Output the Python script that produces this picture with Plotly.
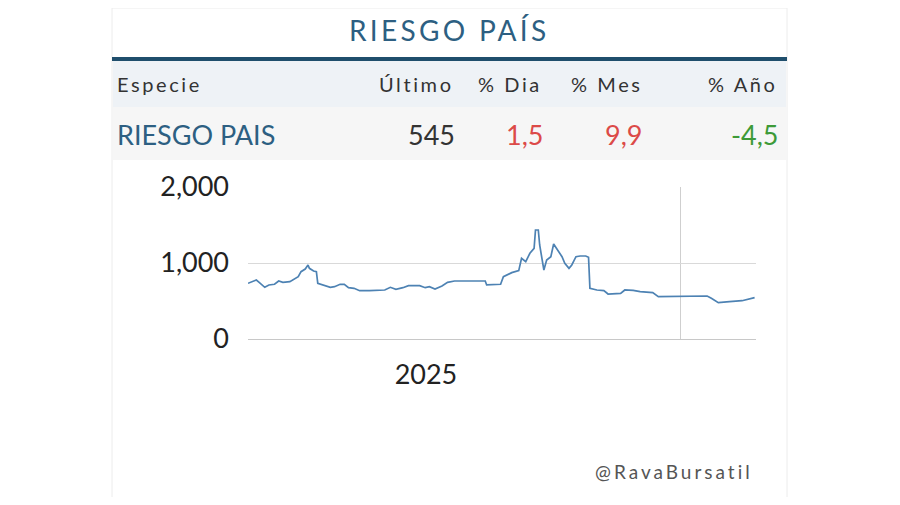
import plotly.graph_objects as go

# ---------------- data ----------------
dates = [
    "2025-02-25", "2025-03-01", "2025-03-03", "2025-03-05", "2025-03-09", "2025-03-12",
    "2025-03-16", "2025-03-19", "2025-03-22", "2025-03-27", "2025-03-29", "2025-04-02",
    "2025-04-04", "2025-04-07", "2025-04-09", "2025-04-10", "2025-04-13", "2025-04-15",
    "2025-04-16", "2025-04-20", "2025-04-25", "2025-04-28", "2025-05-02", "2025-05-05",
    "2025-05-08", "2025-05-12", "2025-05-16", "2025-05-23", "2025-06-03", "2025-06-07",
    "2025-06-11", "2025-06-16", "2025-06-20", "2025-06-28", "2025-07-02", "2025-07-05",
    "2025-07-09", "2025-07-14", "2025-07-18", "2025-07-23", "2025-08-14", "2025-08-15",
    "2025-08-23", "2025-08-25", "2025-08-27", "2025-09-02", "2025-09-07", "2025-09-09",
    "2025-09-12", "2025-09-15", "2025-09-18", "2025-09-19", "2025-09-21", "2025-09-22",
    "2025-09-25", "2025-09-27", "2025-09-30", "2025-10-02", "2025-10-04", "2025-10-08",
    "2025-10-10", "2025-10-13", "2025-10-15", "2025-10-18", "2025-10-21", "2025-10-25",
    "2025-10-27", "2025-10-28", "2025-11-02", "2025-11-07", "2025-11-10", "2025-11-19",
    "2025-11-22", "2025-11-28", "2025-12-03", "2025-12-12", "2025-12-16", "2026-01-01",
    "2026-01-13", "2026-01-20", "2026-01-23", "2026-01-28", "2026-02-05", "2026-02-14",
    "2026-02-23",
]
values = [
    733, 767, 776, 746, 680, 711,
    720, 763, 746, 754, 776, 820,
    886, 921, 974, 930, 895, 886,
    733, 711, 680, 688, 720, 720,
    675, 667, 636, 636, 645, 680,
    654, 675, 701, 701, 675, 688,
    658, 697, 746, 763, 763, 711,
    711, 720, 820, 873, 899, 1062,
    1018, 1128, 1193, 1434, 1434, 1237,
    908, 1040, 1083, 1250, 1193, 1083,
    996, 930, 974, 1083, 1092, 1092,
    1075, 667, 645, 636, 592, 601,
    645, 640, 623, 610, 557, 557,
    566, 566, 536, 478, 491, 504,
    545,
]

y_ticks = [0, 1000, 2000]
y_tick_labels = ["0", "1,000", "2,000"]

title_text = "RIESGO PAÍS"
header_cells = ["Especie", "Último", "% Dia", "% Mes", "% Año"]
row_cells = ["RIESGO PAIS", "545", "1,5", "9,9", "-4,5"]
watermark = "@RavaBursatil"

# ---------------- layout helpers ----------------
PAGE_MARGIN = 8            # default body margin of the html page
W, H = 900 - 2 * PAGE_MARGIN, 505 - 2 * PAGE_MARGIN


def fx(p):
    return (p - PAGE_MARGIN) / W


def fy(p):
    return 1 - (p - PAGE_MARGIN) / H


def spaced(text, px):
    return f'<span style="letter-spacing:{px}px">{text}</span>'


FONT = "Lato"
BLUE = "#2d5f82"
DARK = "#333333"
RED = "#dc4a48"
GREEN = "#3d9a38"

fig = go.Figure()
fig.add_trace(go.Scatter(
    x=dates, y=values, mode="lines",
    line=dict(color="#4d82b3", width=1.7),
    hoverinfo="skip", showlegend=False,
))

shapes = [
    # card
    dict(type="rect", xref="paper", yref="paper", x0=fx(112), x1=fx(787), y0=fy(503), y1=fy(8),
         line=dict(color="#ececec", width=1), fillcolor="#ffffff", layer="below"),
    # dark rule under title
    dict(type="rect", xref="paper", yref="paper", x0=fx(112), x1=fx(787), y0=fy(61), y1=fy(57),
         line=dict(width=0), fillcolor="#1f4e6c", layer="below"),
    # header background
    dict(type="rect", xref="paper", yref="paper", x0=fx(113), x1=fx(786), y0=fy(107), y1=fy(61),
         line=dict(width=0), fillcolor="#eef2f6", layer="below"),
    # row background
    dict(type="rect", xref="paper", yref="paper", x0=fx(113), x1=fx(786), y0=fy(160), y1=fy(107),
         line=dict(width=0), fillcolor="#f6f6f6", layer="below"),
]

annotations = [
    dict(text=spaced(title_text, 3.3), x=fx(449), y=fy(30), xref="paper", yref="paper",
         xanchor="center", yanchor="middle", showarrow=False,
         font=dict(family=FONT, size=28, color=BLUE)),
    dict(text=spaced(watermark, 3), x=fx(755), y=fy(471), xref="paper", yref="paper",
         xanchor="right", yanchor="middle", showarrow=False,
         font=dict(family=FONT, size=19, color="#555555")),
]

header_x = [115, 456, 544, 645, 779]
row_x = [115, 457, 545, 644, 780]
row_colors = [BLUE, DARK, RED, RED, GREEN]
for i, (h, r) in enumerate(zip(header_cells, row_cells)):
    anchor = "left" if i == 0 else "right"
    annotations.append(dict(
        text=spaced(h, 2.6), x=fx(header_x[i]), y=fy(84), xref="paper", yref="paper",
        xanchor=anchor, yanchor="middle", showarrow=False,
        font=dict(family=FONT, size=20, color=DARK)))
    annotations.append(dict(
        text=r, x=fx(row_x[i]), y=fy(134), xref="paper", yref="paper",
        xanchor=anchor, yanchor="middle", showarrow=False,
        font=dict(family=FONT, size=27, color=row_colors[i])))

fig.update_layout(
    width=W, height=H,
    margin=dict(l=0, r=0, t=0, b=0, autoexpand=False),
    paper_bgcolor="#ffffff", plot_bgcolor="rgba(0,0,0,0)",
    shapes=shapes, annotations=annotations,
    showlegend=False,
    xaxis=dict(
        domain=[fx(248), fx(756)],
        type="date",
        range=["2025-02-25", "2026-02-24"],
        tick0="2025-01-01", dtick="M12",
        ticklabelmode="period", tickformat="%Y",
        showgrid=True, gridcolor="#cfcfcf", gridwidth=1,
        showline=False, zeroline=False, ticks="",
        ticklabelstandoff=17,
        tickfont=dict(family=FONT, size=27, color="#222222"),
    ),
    yaxis=dict(
        domain=[fy(339), fy(187)],
        range=[0, 2000],
        tickvals=y_ticks, ticktext=y_tick_labels,
        showgrid=True, gridcolor="#d9d9d9", gridwidth=1,
        zeroline=True, zerolinecolor="#c8c8c8", zerolinewidth=1,
        showline=False, ticks="",
        ticklabelstandoff=18,
        tickfont=dict(family=FONT, size=27, color="#222222"),
    ),
)

fig.write_html("out.html")
